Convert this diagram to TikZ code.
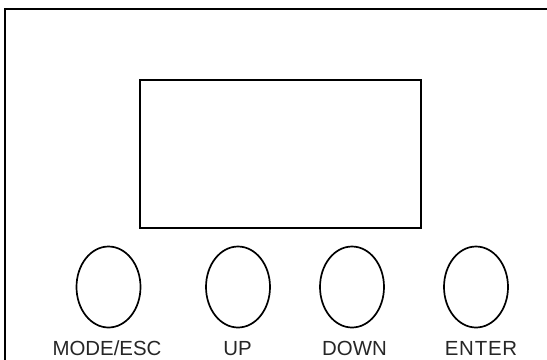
\documentclass[tikz,border=0pt]{standalone}
\usepackage{fontspec}
\setmainfont{Liberation Sans}
\usetikzlibrary{shapes.geometric}
\begin{document}
\begin{tikzpicture}[x=1bp,y=-1bp,
  frameline/.style={line width=1.8bp,draw=black},
  button/.style={ellipse,draw=black,line width=1.7bp,minimum width=64bp,minimum height=81bp,inner sep=0pt},
  lbl/.style={anchor=base,font=\fontsize{20.5}{20.5}\selectfont,text=black!85,inner sep=0pt}]
\useasboundingbox (0,0) rectangle (547,359);
\draw[frameline] (4.8,362) -- (4.8,9.3) -- (550,9.3);
\node[draw=black,line width=1.7bp,minimum width=281bp,minimum height=147.5bp,inner sep=0pt] (screen) at (280.5,154) {};
\node[button] (mode) at (108.5,287) {};
\node[button] (up) at (238,287) {};
\node[button] (down) at (352,287) {};
\node[button] (enter) at (476,287) {};
\node[lbl] (lmode) at (107,355.5) {MODE/ESC};
\node[lbl] (lup) at (237.5,355.5) {UP};
\node[lbl] (ldown) at (354.5,355.5) {DOWN};
\node[lbl] (lenter) at (481,355.5) {E\hspace{0.8bp}N\hspace{0.8bp}T\hspace{0.8bp}E\hspace{0.8bp}R};
\end{tikzpicture}
\end{document}
